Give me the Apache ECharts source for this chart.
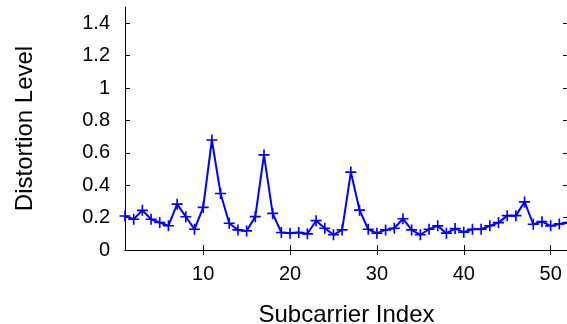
<!DOCTYPE html>
<html>
<head>
<meta charset="utf-8">
<script src="https://cdn.jsdelivr.net/npm/echarts@6/dist/echarts.min.js"></script>
<style>
  html, body { margin: 0; padding: 0; background: #fff; }
  #chart { width: 567px; height: 324px; }
</style>
</head>
<body>
<div id="chart"></div>
<script>
// subcarrier index 1..52
var subcarriers = [];
for (var k = 1; k <= 52; k++) subcarriers.push(k);

// distortion level
var distortion = [
  0.21, 0.19, 0.245, 0.19, 0.17, 0.15, 0.283, 0.205, 0.128, 0.263,
  0.679, 0.349, 0.165, 0.124, 0.118, 0.206, 0.587, 0.226, 0.108, 0.104,
  0.108, 0.10, 0.181, 0.134, 0.094, 0.124, 0.481, 0.246, 0.128, 0.104,
  0.124, 0.134, 0.193, 0.124, 0.094, 0.128, 0.149, 0.104, 0.132, 0.11,
  0.128, 0.128, 0.15, 0.169, 0.212, 0.212, 0.297, 0.159, 0.175, 0.149,
  0.161, 0.17
];

var xTicks = [10, 20, 30, 40, 50];
var yTicks = [0, 0.2, 0.4, 0.6, 0.8, 1, 1.2, 1.4];

var chart = echarts.init(document.getElementById('chart'));

var pts = [];
for (var i = 0; i < subcarriers.length; i++) {
  pts.push([subcarriers[i], distortion[i]]);
}

var frameLine = { show: true, lineStyle: { color: '#000', width: 1 } };
var font = 'Liberation Sans, Arial, sans-serif';

// plus-shaped marker
var plus = 'path://M4.25,0h1.5v4.25h4.25v1.5h-4.25v4.25h-1.5v-4.25h-4.25v-1.5h4.25z';

var option = {
  animation: false,
  grid: { left: 125, top: 7, right: -1, bottom: 74, containLabel: false, outerBoundsMode: 'none' },
  xAxis: [{
    type: 'value',
    min: 1,
    max: 52,
    position: 'bottom',
    name: 'Subcarrier Index',
    nameLocation: 'middle',
    nameGap: 53,
    nameTextStyle: { fontFamily: font, fontSize: 24, color: '#000' },
    axisLine: frameLine,
    axisTick: { show: true, inside: true, length: 5, customValues: xTicks, lineStyle: { color: '#000' } },
    axisLabel: { customValues: xTicks, margin: 14, fontFamily: font, fontSize: 20, color: '#000' },
    splitLine: { show: false }
  }, {
    type: 'value',
    min: 1,
    max: 52,
    position: 'top',
    axisLine: frameLine,
    axisTick: { show: true, inside: true, length: 5, customValues: xTicks, lineStyle: { color: '#000' } },
    axisLabel: { show: false },
    splitLine: { show: false }
  }],
  yAxis: [{
    type: 'value',
    min: 0,
    max: 1.5,
    position: 'left',
    name: 'Distortion Level',
    nameLocation: 'middle',
    nameGap: 88,
    nameTextStyle: { fontFamily: font, fontSize: 24, color: '#000' },
    axisLine: frameLine,
    axisTick: { show: true, inside: true, length: 5, customValues: yTicks, lineStyle: { color: '#000' } },
    axisLabel: { customValues: yTicks, margin: 15, fontFamily: font, fontSize: 20, color: '#000' },
    splitLine: { show: false }
  }, {
    type: 'value',
    min: 0,
    max: 1.5,
    position: 'right',
    axisLine: frameLine,
    axisTick: { show: true, inside: true, length: 5, customValues: yTicks, lineStyle: { color: '#000' } },
    axisLabel: { show: false },
    splitLine: { show: false }
  }],
  series: [{
    type: 'line',
    xAxisIndex: 0,
    yAxisIndex: 0,
    data: pts,
    showAllSymbol: true,
    symbol: plus,
    symbolSize: 11,
    lineStyle: { color: '#0000ff', width: 2 },
    itemStyle: { color: '#0000ff' },
    clip: true
  }]
};

chart.setOption(option);
</script>
</body>
</html>
